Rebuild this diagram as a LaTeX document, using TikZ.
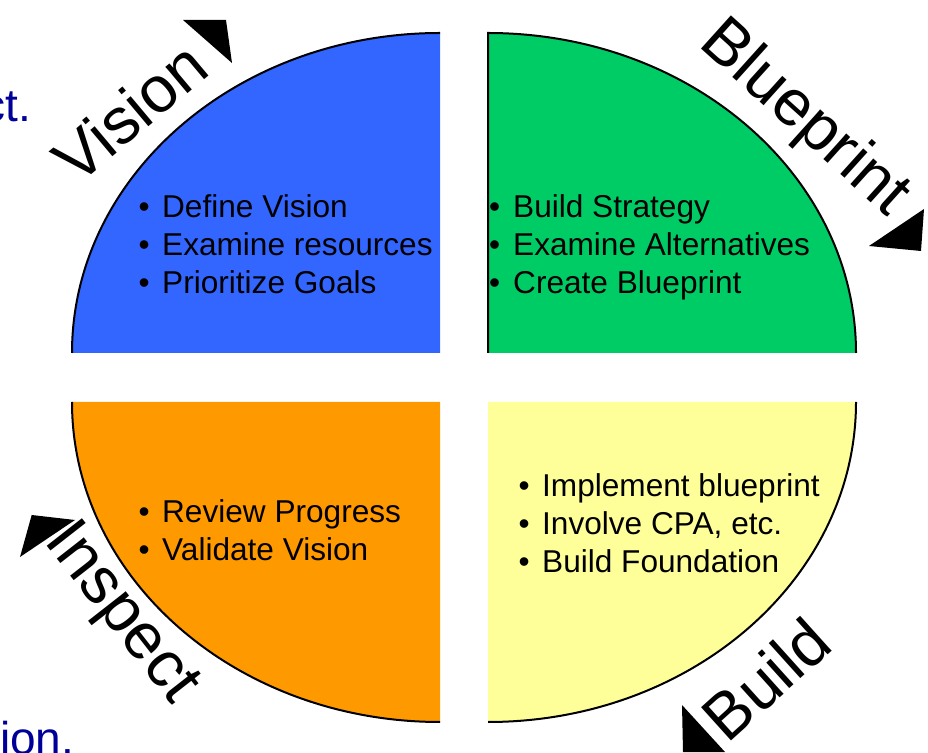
\documentclass[tikz,border=0pt]{standalone}
\usepackage{fontspec}
\setmainfont{Liberation Sans}
\definecolor{qblue}{RGB}{51,102,255}
\definecolor{qgreen}{RGB}{0,204,102}
\definecolor{qorange}{RGB}{255,153,0}
\definecolor{qyellow}{RGB}{255,255,153}
\definecolor{fragblue}{RGB}{0,0,153}
\newcommand\itembullet[1]{\makebox[#1][l]{•}}
\begin{document}
\begin{tikzpicture}[x=1pt,y=1pt,
  arcline/.style={draw=black,line width=2pt},
  item/.style={anchor=base west,inner sep=0pt,font=\fontsize{31.6}{38}\selectfont},
  phase/.style={font=\fontsize{65}{74}\selectfont,inner sep=0pt},
  marker/.style={fill=black},
  frag/.style={text=fragblue,font=\fontsize{46}{52}\selectfont,inner sep=0pt}]
\useasboundingbox (0,0) rectangle (928,752);
\clip (0,0) rectangle (928,752);

% quarters
\fill[qblue] (440,399) -- (72,399) arc[start angle=180,end angle=90,x radius=368,y radius=320] -- cycle;
\draw[arcline] (72,399) arc[start angle=180,end angle=90,x radius=368,y radius=320];

\fill[qgreen] (488,399) -- (488,719) arc[start angle=90,end angle=0,x radius=368,y radius=320] -- cycle;
\draw[arcline] (488,399) -- (488,719) arc[start angle=90,end angle=0,x radius=368,y radius=320];

\fill[qorange] (440,350) -- (72,350) arc[start angle=180,end angle=270,x radius=368,y radius=320] -- cycle;
\draw[arcline] (72,350) arc[start angle=180,end angle=270,x radius=368,y radius=320];

\fill[qyellow] (488,350) -- (488,30) arc[start angle=270,end angle=360,x radius=368,y radius=320] -- cycle;
\draw[arcline] (488,30) arc[start angle=270,end angle=360,x radius=368,y radius=320];

% items
\node[item] (v1) at (138.5,534) {\itembullet{23.5pt}Define Vision};
\node[item] (v2) at (138.5,496) {\itembullet{23.5pt}Examine resources};
\node[item] (v3) at (138.5,458) {\itembullet{23.5pt}Prioritize Goals};

\node[item] (b1) at (489,534) {\itembullet{24pt}Build Strategy};
\node[item] (b2) at (489,496) {\itembullet{24pt}Examine Alternatives};
\node[item] (b3) at (489,458) {\itembullet{24pt}Create Blueprint};

\node[item] (i1) at (138.5,229) {\itembullet{23.5pt}Review Progress};
\node[item] (i2) at (138.5,191) {\itembullet{23.5pt}Validate Vision};

\node[item] (u1) at (518.5,255) {\itembullet{23.5pt}Implement blueprint};
\node[item] (u2) at (518.5,217) {\itembullet{23.5pt}Involve CPA, etc.};
\node[item] (u3) at (518.5,179) {\itembullet{23.5pt}Build Foundation};

% phase labels
\node[phase,rotate=40] (lvision) at (130,640) {Vision};
\node[phase,rotate=-42] (lblue) at (804,633) {Blueprint};
\node[phase,rotate=-52] (linspect) at (120,138) {Inspect};
\node[phase,rotate=42] (lbuild) at (766,73) {Build};

% arrow markers
\fill[marker] (183,732) -- (226,732) -- (232,689) -- cycle;
\fill[marker] (869,506) -- (924,543) -- (921,501) -- cycle;
\fill[marker] (31.7,237) -- (75,232) -- (20,195) -- cycle;
\fill[marker] (682,47) -- (725,0) -- (683,0) -- cycle;

% clipped fragments of slide text
\node[frag,anchor=base east] (fragtop) at (31,630) {ct.};
\node[frag,anchor=base west] (fragbot) at (0,-2) {ion.};
\end{tikzpicture}
\end{document}
